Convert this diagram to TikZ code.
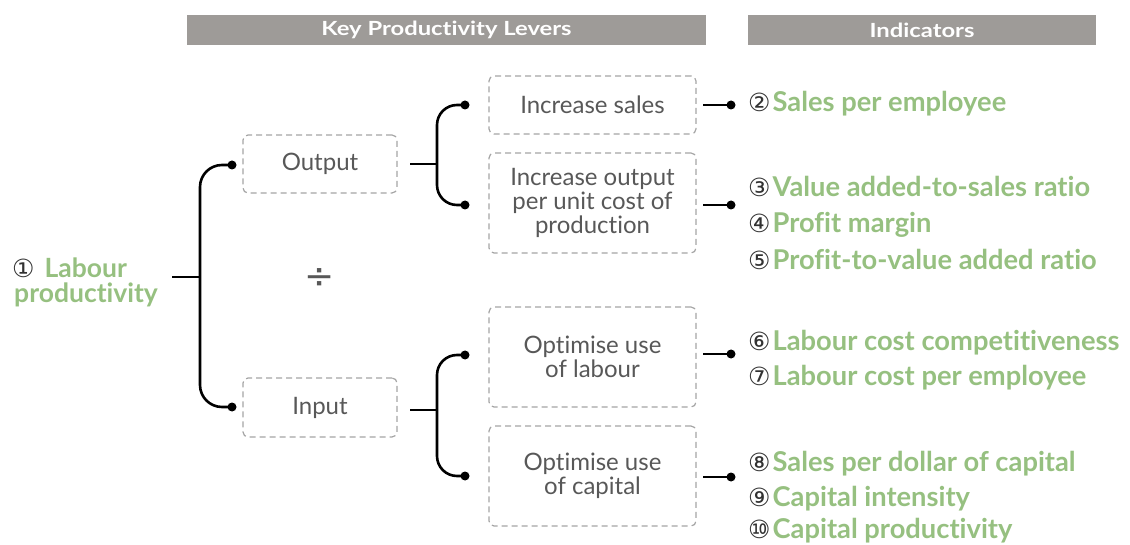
\documentclass[tikz,border=0pt]{standalone}
\usepackage{fontspec}
\setmainfont{Lato}[Ligatures=NoCommon]
\newfontfamily\symf{DejaVu Sans}
\definecolor{hdrgray}{RGB}{158,155,152}
\definecolor{indgreen}{RGB}{150,192,128}
\definecolor{boxtext}{RGB}{88,88,88}
\definecolor{dashgray}{RGB}{165,165,165}
\definecolor{numgray}{RGB}{50,50,50}
\newcommand\cnum[1]{{\color{numgray}\symf\mdseries\fontsize{25}{25}\selectfont #1}}
\newcommand\hdrtext[1]{\scalebox{1.22}[1]{#1}}
\newcommand\tiq{t\kern0pt i}
\begin{document}
\begin{tikzpicture}[x=1pt,y=-1pt,
  hdr/.style={fill=hdrgray, text=white, font=\bfseries\fontsize{19.5}{22}\selectfont, minimum height=30pt, inner sep=0},
  lever/.style={draw=dashgray, dash pattern=on 6pt off 4pt, line width=1.2pt, rounded corners=5pt, text=boxtext, font=\fontsize{24}{24}\selectfont, align=center, inner sep=0},
  ind/.style={anchor=base west, text=indgreen, font=\bfseries\fontsize{27.3}{30}\selectfont, inner sep=0},
  conn/.style={line width=2.6pt, black},
  stub/.style={line width=2pt, black},
  dot/.style={circle, fill=black, inner sep=0, minimum size=9pt},
]
\useasboundingbox (0,0) rectangle (1130,545);
% headers
\node[hdr, minimum width=519pt] (h1) at (446.5,30) {\hdrtext{Key Produc\tiq{}vity Levers}};
\node[hdr, minimum width=348pt] (h2) at (922,30) {\hdrtext{Indicators}};
% left label
\node[ind, font=\bfseries\fontsize{26.5}{30}\selectfont] (lp1) at (12,278) {\cnum{①}\hspace{10pt}Labour};
\node[ind, font=\bfseries\fontsize{26.5}{30}\selectfont] (lp2) at (14,303) {produc\tiq{}vity};
\node[text=boxtext, font=\symf\fontsize{36}{36}\selectfont] (div) at (320,279) {÷};
% level 1 boxes
\node[lever, minimum width=154pt, minimum height=58pt] (out) at (320,164) {Output};
\node[lever, minimum width=154pt, minimum height=59pt] (inp) at (320,407.5) {Input};
% level 2 boxes
\node[lever, minimum width=207pt, minimum height=58pt] (sales) at (592.5,105) {Increase sales};
\node[lever, minimum width=207pt, minimum height=100pt] (incout) at (592.5,203) {Increase output\\per unit cost of\\production};
\node[lever, minimum width=207pt, minimum height=100pt] (optlab) at (592.5,357) {Op\tiq{}mise use\\of labour};
\node[lever, minimum width=207pt, minimum height=100pt] (optcap) at (592.5,476) {Op\tiq{}mise use\\of capital};
% bracket 1
\coordinate (j1a) at (172,277);
\coordinate (j1b) at (200,277);
\node[dot] (d1) at (232,165) {};
\node[dot] (d2) at (232,407) {};
\draw[stub] (j1a) -- (j1b);
\draw[conn, rounded corners=22pt] (d1.center) -- (200,165) -- (200,407) -- (d2.center);
% bracket 2
\coordinate (j2a) at (410,164);
\coordinate (j2b) at (437,164);
\node[dot] (d3) at (465,105) {};
\node[dot] (d4) at (465,205) {};
\draw[stub] (j2a) -- (j2b);
\draw[conn, rounded corners=20pt] (d3.center) -- (437,105) -- (437,205) -- (d4.center);
% bracket 3
\coordinate (j3a) at (410,410);
\coordinate (j3b) at (437,410);
\node[dot] (d5) at (465,355) {};
\node[dot] (d6) at (465,476) {};
\draw[stub] (j3a) -- (j3b);
\draw[conn, rounded corners=20pt] (d5.center) -- (437,355) -- (437,476) -- (d6.center);
% right connectors
\coordinate (r1) at (703,105); \node[dot] (e1) at (731,105) {};
\coordinate (r2) at (703,205); \node[dot] (e2) at (731,205) {};
\coordinate (r3) at (703,354); \node[dot] (e3) at (731,354) {};
\coordinate (r4) at (703,477); \node[dot] (e4) at (731,477) {};
\draw[conn] (r1) -- (e1.center);
\draw[conn] (r2) -- (e2.center);
\draw[conn] (r3) -- (e3.center);
\draw[conn] (r4) -- (e4.center);
% indicators
\node[ind] (i2) at (748,112) {\cnum{②}\hspace{2pt}Sales per employee};
\node[ind] (i3) at (748,197) {\cnum{③}\hspace{2pt}Value added-to-sales ratio};
\node[ind] (i4) at (748,233) {\cnum{④}\hspace{2pt}Profit margin};
\node[ind] (i5) at (748,270) {\cnum{⑤}\hspace{2pt}Profit-to-value added ratio};
\node[ind] (i6) at (748,350) {\cnum{⑥}\hspace{2pt}Labour cost compe\tiq{}\tiq{}veness};
\node[ind] (i7) at (748,385) {\cnum{⑦}\hspace{2pt}Labour cost per employee};
\node[ind] (i8) at (748,471) {\cnum{⑧}\hspace{2pt}Sales per dollar of capital};
\node[ind] (i9) at (748,506) {\cnum{⑨}\hspace{2pt}Capital intensity};
\node[ind] (i10) at (748,538) {\cnum{⑩}\hspace{2pt}Capital produc\tiq{}vity};
\end{tikzpicture}
\end{document}
